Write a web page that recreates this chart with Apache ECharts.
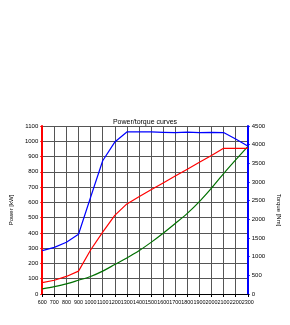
<!DOCTYPE html>
<html><head><meta charset="utf-8">
<script src="https://cdn.jsdelivr.net/npm/echarts@6/dist/echarts.min.js"></script>
<style>html,body{margin:0;padding:0;background:#fff}#c{width:290px;height:325px}</style>
</head><body><div id="c"></div>
<script>
const rpm = [600,700,800,900,1000,1100,1200,1300,1400,1500,1600,1700,1800,1900,2000,2100,2200,2300];
const powerRed = [75,90,115,150,288,405,515,590,637,682,727,772,817,862,907,954,954,954];
const powerGreen = [33,48,66,90,115,150,193,236,283,338,398,462,528,605,693,788,878,965];
const torqueBlue = [1160,1250,1385,1600,2590,3570,4070,4340,4340,4340,4330,4320,4335,4320,4330,4325,4150,3965];
const xTicks = {min:600,max:2300,interval:100};
const powerTicks = {min:0,max:1100,interval:100};
const torqueTicks = {min:0,max:4500,interval:500};
const pairs = (ys) => rpm.map((x,i)=>[x,ys[i]]);
const font = 'Liberation Sans, Arial, sans-serif';
const plain = (v) => String(v);
const chart = echarts.init(document.getElementById('c'));
chart.setOption({
  animation:false,
  title:{text:'Power/torque curves',left:'center',top:114,textStyle:{fontSize:7,fontWeight:'normal',color:'#000',fontFamily:font}},
  grid:{left:26,right:27,top:126,bottom:31},
  xAxis:{type:'value',min:xTicks.min,max:xTicks.max,interval:xTicks.interval,
    axisLine:{lineStyle:{color:'#000',width:1}},
    axisTick:{show:true,length:3,lineStyle:{color:'#000'}},
    axisLabel:{fontSize:5.4,color:'#000',fontFamily:font,margin:6,formatter:plain,hideOverlap:false,showMinLabel:true,showMaxLabel:true},
    splitLine:{show:true,lineStyle:{color:'#555',width:1}}},
  yAxis:[
    {type:'value',min:powerTicks.min,max:powerTicks.max,interval:powerTicks.interval,position:'left',
     name:'Power [kW]',nameLocation:'middle',nameGap:19,nameTextStyle:{fontSize:6,color:'#000',fontFamily:font},
     axisLine:{show:true,lineStyle:{color:'#f00',width:2}},
     axisTick:{show:true,length:2,lineStyle:{color:'#f00'}},
     axisLabel:{fontSize:6,color:'#000',fontFamily:font,margin:4,formatter:plain},
     splitLine:{show:true,lineStyle:{color:'#555',width:1}}},
    {type:'value',min:torqueTicks.min,max:torqueTicks.max,interval:torqueTicks.interval,position:'right',
     name:'Torque [Nm]',nameLocation:'middle',nameGap:19,nameRotate:-90,nameTextStyle:{fontSize:6,color:'#000',fontFamily:font},
     axisLine:{show:true,lineStyle:{color:'#00f',width:2}},
     axisTick:{show:true,length:2,lineStyle:{color:'#00f'}},
     axisLabel:{fontSize:6,color:'#000',fontFamily:font,margin:4,formatter:plain},
     splitLine:{show:false}}
  ],
  series:[
    {type:'line',yAxisIndex:0,data:pairs(powerGreen),symbol:'none',smooth:0.3,lineStyle:{color:'#007000',width:1.2}},
    {type:'line',yAxisIndex:0,data:pairs(powerRed),symbol:'none',lineStyle:{color:'#f00',width:1.2}},
    {type:'line',yAxisIndex:1,data:pairs(torqueBlue),symbol:'none',lineStyle:{color:'#00f',width:1.2}}
  ]
});
</script></body></html>
